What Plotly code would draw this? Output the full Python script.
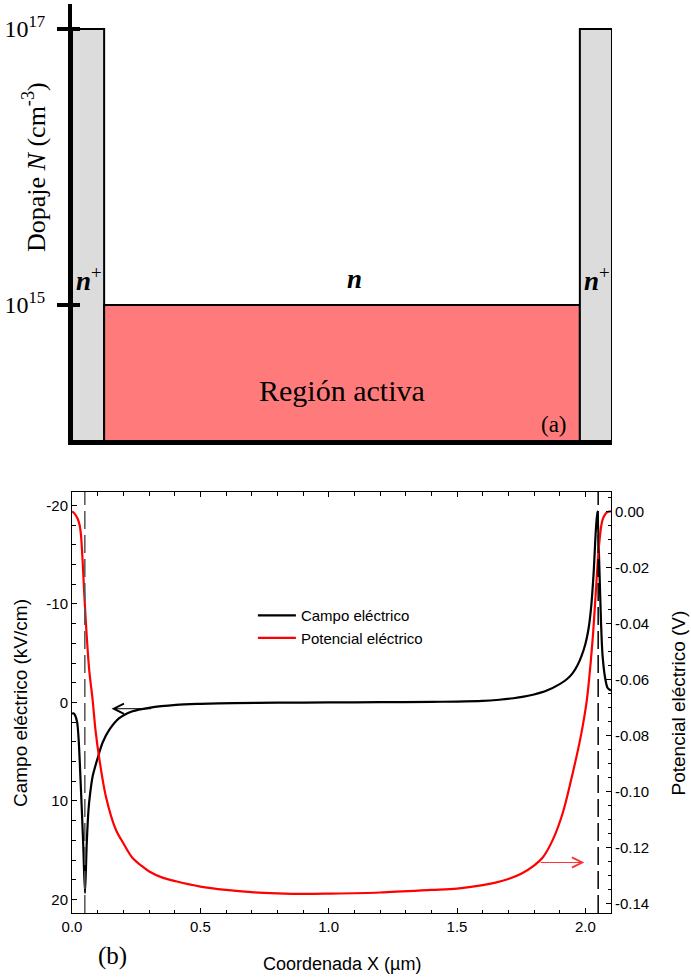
import math
import plotly.graph_objects as go

# ---------------- data ----------------
# (a) doping profile: region edges along X (schematic units) and doping levels
region_edges = [0.0, 0.125, 1.975, 2.1]
region_doping = [1e17, 1e15, 1e17]
region_colors = ["#dcdcdc", "#ff7b7b", "#dcdcdc"]
doping_tickvals = [1e15, 1e17]
doping_ticktext = ["10<sup>15</sup>", "10<sup>17</sup>"]

# (b) electric field (kV/cm) vs X (um)
field_x = [0.0, 0.006, 0.012, 0.02, 0.026, 0.035, 0.044, 0.0506, 0.057, 0.064,
           0.07, 0.0805, 0.1, 0.119, 0.145, 0.184, 0.236, 0.3, 0.405, 0.5, 0.63, 0.8,
           1.0, 1.2, 1.4, 1.5, 1.6, 1.665, 1.72, 1.76, 1.8, 1.85, 1.9, 1.93, 1.95,
           1.97, 1.985, 2.0, 2.012, 2.022, 2.032, 2.041, 2.047, 2.054, 2.061,
           2.067, 2.077, 2.087, 2.1]
field_E = [1.15, 1.1, 1.3, 2.0, 3.8, 8.9, 14.6, 19.35, 14.6, 11.0,
           9.4, 7.5, 5.65, 4.1, 2.8, 1.6, 0.9, 0.55, 0.25, 0.15, 0.08, 0.03,
           0.0, -0.02, -0.06, -0.08, -0.15, -0.27, -0.42, -0.58, -0.8, -1.2, -1.85, -2.4, -2.95,
           -3.8, -4.7, -5.9, -7.4, -9.5, -13.0, -17.5, -19.4, -14.3, -8.2,
           -4.8, -2.5, -1.46, -1.2]

# (b) electric potential (V) vs X (um)
pot_x = [0.0, 0.01, 0.022, 0.03, 0.035, 0.0415, 0.048, 0.057, 0.0675, 0.08,
         0.092, 0.106, 0.132, 0.171, 0.2, 0.236, 0.27, 0.301, 0.35, 0.405, 0.5, 0.6,
         0.7, 0.8, 0.9, 1.0, 1.2, 1.4, 1.5, 1.6, 1.65, 1.7, 1.75, 1.8, 1.834, 1.873,
         1.912, 1.951, 1.983, 2.006, 2.021, 2.03, 2.042, 2.054, 2.067, 2.083, 2.1]
pot_V = [0.0, -0.0008, -0.0026, -0.005, -0.0085, -0.0179, -0.0298, -0.044, -0.0571, -0.067,
         -0.0785, -0.0881, -0.1018, -0.1137, -0.1185, -0.1238, -0.1265, -0.1286, -0.1307, -0.1321,
         -0.134, -0.1352, -0.136, -0.1364, -0.1366, -0.1365, -0.1361, -0.1352, -0.1347, -0.1335,
         -0.1326, -0.1313, -0.1294, -0.1265, -0.1236, -0.1173, -0.1077, -0.0934, -0.080, -0.0673,
         -0.0538, -0.0439, -0.0271, -0.0115, -0.003, -0.0004, 0.0]

# interfaces n+/n (dashed lines), um
interfaces_x = [0.05, 2.05]
interface_colors = ["#555555", "#000000"]

# arrows pointing to the axis of each curve: (head x, tail x, y)
field_arrow = (0.154, 0.314, 0.64)
pot_arrow = (1.996, 1.82, -0.1254)

x_tickvals = [0.0, 0.5, 1.0, 1.5, 2.0]
x_ticktext = ["0.0", "0.5", "1.0", "1.5", "2.0"]
E_tickvals = [-20, -10, 0, 10, 20]
E_ticktext = ["-20", "-10", "0", "10", "20"]
V_tickvals = [0.0, -0.02, -0.04, -0.06, -0.08, -0.10, -0.12, -0.14]
V_ticktext = ["0.00", "-0.02", "-0.04", "-0.06", "-0.08", "-0.10", "-0.12", "-0.14"]

# ---------------- figure ----------------
SERIF = "Liberation Serif, Times New Roman, serif"
SANS = "Liberation Sans, Arial, sans-serif"

log_min, log_max = 14.0145, 17.181
centers = [(region_edges[i] + region_edges[i + 1]) / 2 for i in range(len(region_doping))]
widths = [region_edges[i + 1] - region_edges[i] for i in range(len(region_doping))]
heights = [math.log10(d) - log_min for d in region_doping]

fig = go.Figure()

fig.add_trace(go.Bar(
    x=centers, y=heights, width=widths, base=log_min,
    marker=dict(color=region_colors, line=dict(color="black", width=2)),
    xaxis="x", yaxis="y", showlegend=False, hoverinfo="skip"))
fig.add_trace(go.Scatter(x=[None], y=[None], xaxis="x", yaxis="y4",
                         showlegend=False, hoverinfo="skip"))

fig.add_trace(go.Scatter(
    x=field_x, y=field_E, mode="lines", name="Campo eléctrico",
    line=dict(color="black", width=2.2, shape="spline", smoothing=0.8),
    xaxis="x2", yaxis="y2"))
fig.add_trace(go.Scatter(
    x=pot_x, y=pot_V, mode="lines", name="Potencial eléctrico",
    line=dict(color="#ff0000", width=2.2, shape="spline", smoothing=0.9),
    xaxis="x2", yaxis="y3"))

shapes = []
for xi, c in zip(interfaces_x, interface_colors):
    shapes.append(dict(type="line", xref="x2", yref="y2 domain", x0=xi, x1=xi, y0=0, y1=1,
                       line=dict(color=c, width=1.5, dash="18px,6px")))


def txt(text, x, y, size, family=SERIF, angle=0):
    return dict(text=text, xref="paper", yref="paper", x=x, y=y, textangle=angle,
                xanchor="center", yanchor="middle", showarrow=False,
                font=dict(family=family, size=size, color="black"))


annotations = [
    txt("Dopaje <i>N</i> (cm<sup>-3</sup>)", -0.0685, 0.8207, 26, angle=-90),
    txt("<b><i>n</i></b><sup>+</sup>", 0.0315, 0.6975, 27),
    txt("<b><i>n</i></b>", 0.524, 0.6975, 27),
    txt("<b><i>n</i></b><sup>+</sup>", 0.972, 0.6975, 27),
    txt("Región activa", 0.5, 0.5743, 30),
    txt("(a)", 0.8935, 0.5369, 23),
    txt("(b)", 0.0759, -0.0473, 25),
    txt("Campo eléctrico (kV/cm)", -0.0963, 0.231, 19, SANS, -90),
    txt("Potencial eléctrico (V)", 1.1222, 0.2316, 19, SANS, -90),
    txt("Coordenada X (µm)", 0.5, -0.0561, 18, SANS),
    dict(x=field_arrow[0], y=field_arrow[2], ax=field_arrow[1], ay=field_arrow[2],
         xref="x2", yref="y2", axref="x2", ayref="y2", text="", showarrow=True,
         arrowhead=5, arrowsize=2, arrowwidth=1, arrowcolor="black"),
    dict(x=pot_arrow[0], y=pot_arrow[2], ax=pot_arrow[1], ay=pot_arrow[2],
         xref="x2", yref="y3", axref="x2", ayref="y3", text="", showarrow=True,
         arrowhead=5, arrowsize=2, arrowwidth=1, arrowcolor="#ff3030"),
]

tickfont = dict(family=SANS, size=15, color="black")
top_dom = [(913 - 441) / 909, 1.0]
bot_dom = [0.0, (913 - 492) / 909]
log_ticks = [math.log10(v) for v in doping_tickvals]

fig.update_layout(
    width=691, height=980,
    margin=dict(l=72, r=79, t=4, b=67),
    paper_bgcolor="white", plot_bgcolor="white",
    barmode="overlay",
    shapes=shapes, annotations=annotations,
    legend=dict(x=0.335, y=0.3454, xanchor="left", yanchor="top", itemwidth=38,
                font=dict(family=SANS, size=15, color="black"),
                bgcolor="rgba(0,0,0,0)", tracegroupgap=0),
    xaxis=dict(domain=[0, 1], anchor="y", range=[0, 2.1], showline=True, linewidth=4,
               linecolor="black", ticks="", showticklabels=False, showgrid=False,
               zeroline=False, fixedrange=True),
    yaxis=dict(domain=top_dom, anchor="x", range=[log_min, log_max], showline=True,
               linewidth=4, linecolor="black", tickmode="array", tickvals=log_ticks,
               ticktext=doping_ticktext, ticks="outside", ticklen=11, tickwidth=4,
               tickcolor="black", ticklabelstandoff=7,
               tickfont=dict(family=SERIF, size=24, color="black"),
               showgrid=False, zeroline=False),
    yaxis4=dict(overlaying="y", anchor="x", side="left", range=[log_min, log_max],
                tickmode="array", tickvals=log_ticks, ticks="inside", ticklen=8,
                tickwidth=4, tickcolor="black", showticklabels=False, showline=False,
                showgrid=False, zeroline=False),
    xaxis2=dict(domain=[0, 539 / 540], anchor="y2", range=[0, 2.1], showline=True,
                linewidth=1, linecolor="black", mirror="ticks", tickmode="array",
                tickvals=x_tickvals, ticktext=x_ticktext, ticks="inside", ticklen=5,
                tickcolor="black", tickfont=tickfont,
                minor=dict(dtick=0.1, tick0=0, ticks="inside", ticklen=3.5, tickcolor="black"),
                showgrid=False, zeroline=False),
    yaxis2=dict(domain=bot_dom, anchor="x2", range=[21.38, -21.36], showline=True,
                linewidth=1, linecolor="black", tickmode="array", tickvals=E_tickvals,
                ticktext=E_ticktext, ticks="inside", ticklen=5, tickcolor="black",
                tickfont=tickfont,
                minor=dict(dtick=2, tick0=0, ticks="inside", ticklen=3.5, tickcolor="black"),
                showgrid=False, zeroline=False),
    yaxis3=dict(overlaying="y2", anchor="x2", side="right", range=[-0.14343, 0.00693],
                showline=True, linewidth=1, linecolor="black", tickmode="array",
                tickvals=V_tickvals, ticktext=V_ticktext, ticks="inside", ticklen=5,
                tickcolor="black", tickfont=tickfont,
                minor=dict(dtick=0.005, tick0=0, ticks="inside", ticklen=3.5, tickcolor="black"),
                showgrid=False, zeroline=False),
)

fig.write_html("out.html", config={"displayModeBar": False},
               post_script="document.body.style.margin='0px';")
